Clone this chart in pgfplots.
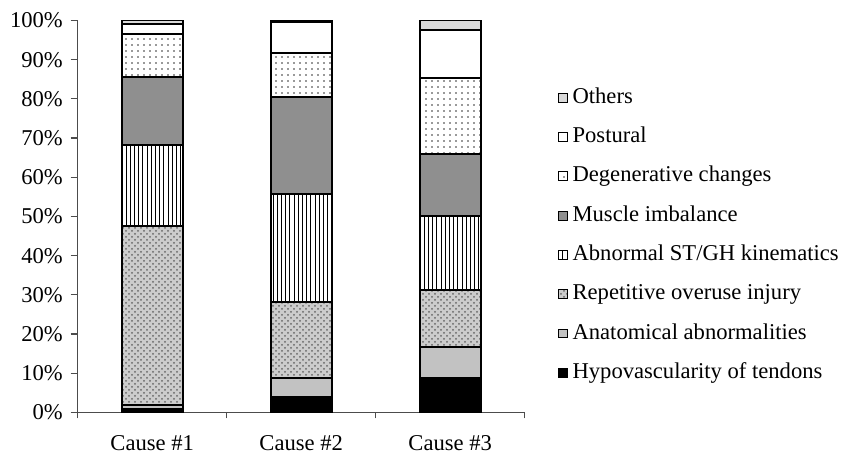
\documentclass[border=0pt]{standalone}
\usepackage{fontspec}
\setmainfont{Liberation Serif}
\usepackage{pgfplots}
\usepackage{pgfplotstable}
\pgfplotsset{compat=1.18}
\usetikzlibrary{patterns,patterns.meta}

\definecolor{cOth}{gray}{0.85}
\definecolor{cMus}{gray}{0.56}
\definecolor{cAnat}{gray}{0.76}
\definecolor{cRep}{gray}{0.80}
\definecolor{cRepDot}{gray}{0.40}
\definecolor{cAx}{gray}{0.3}

\pgfplotstableread{
x hypo anat rep abn mus deg pos oth
0 1.0 1.0 45.6 20.6 17.5 10.8 2.6 0.9
1 4.0 4.7 19.6 27.4 24.8 11.2 8.0 0.3
2 8.9 7.9 14.5 18.9 15.7 19.4 12.3 2.4
}\data

\begin{document}
\fontsize{11.3}{13.5}\selectfont
\begin{tikzpicture}
\useasboundingbox (0,0) rectangle (423.5pt,226.5pt);
\begin{axis}[
  at={(38.85pt,20.25pt)}, anchor=south west,
  scale only axis, width=223.5pt, height=196pt,
  ybar stacked, bar width=30.5pt,
  xmin=-0.5, xmax=2.5, ymin=0, ymax=100,
  axis lines=left, axis line style={-, cAx, line width=0.6pt},
  xtick={0,1,2}, xticklabels={Cause \#1, Cause \#2, Cause \#3},
  minor xtick={-0.5,0.5,1.5,2.5},
  major x tick style={draw=none},
  minor x tick style={cAx, line width=0.6pt},
  ytick={0,10,...,100},
  yticklabel={\pgfmathprintnumber{\tick}\%},
  y tick style={cAx, line width=0.6pt},
  tick align=outside, major tick length=3.5pt, minor tick length=3pt,
  /pgf/number format/assume math mode=true,
  ticklabel style={font=\fontsize{11.3}{13.5}\selectfont},
  xticklabel style={yshift=-4pt},
  reverse legend,
  legend image code/.code={\draw[#1, line width=0.5pt] (0pt,-2.2pt) rectangle (4.4pt,2.2pt);},
  legend style={at={(axis description cs:1.0745,0.452)}, anchor=west,
    draw=none, fill=none, inner sep=0pt, row sep=9.15pt, column sep=0pt,
    font=\fontsize{11.3}{13.5}\selectfont,
    nodes={inner xsep=2.2pt, inner ysep=0pt, text height=8pt, text depth=2.5pt}},
  legend cell align=left,
  every axis plot/.append style={draw=black, line width=1pt},
]
\addplot[fill=black] table[x=x,y=hypo]{\data};
\addplot[fill=cAnat] table[x=x,y=anat]{\data};
\addplot[fill=cRep, postaction={pattern=crosshatch dots, pattern color=cRepDot}] table[x=x,y=rep]{\data};
\addplot[fill=white, postaction={pattern={Lines[angle=90,distance=2.1pt,line width=0.4pt]}, pattern color=black}] table[x=x,y=abn]{\data};
\addplot[fill=cMus] table[x=x,y=mus]{\data};
\addplot[fill=white, postaction={pattern={Dots[distance=3pt,radius=0.45pt]}, pattern color=black!80}] table[x=x,y=deg]{\data};
\addplot[fill=white] table[x=x,y=pos]{\data};
\addplot[fill=cOth] table[x=x,y=oth]{\data};
\legend{Hypovascularity of tendons, Anatomical abnormalities, Repetitive overuse injury, Abnormal ST/GH kinematics, Muscle imbalance, Degenerative changes, Postural, Others}
\end{axis}
\end{tikzpicture}
\end{document}
